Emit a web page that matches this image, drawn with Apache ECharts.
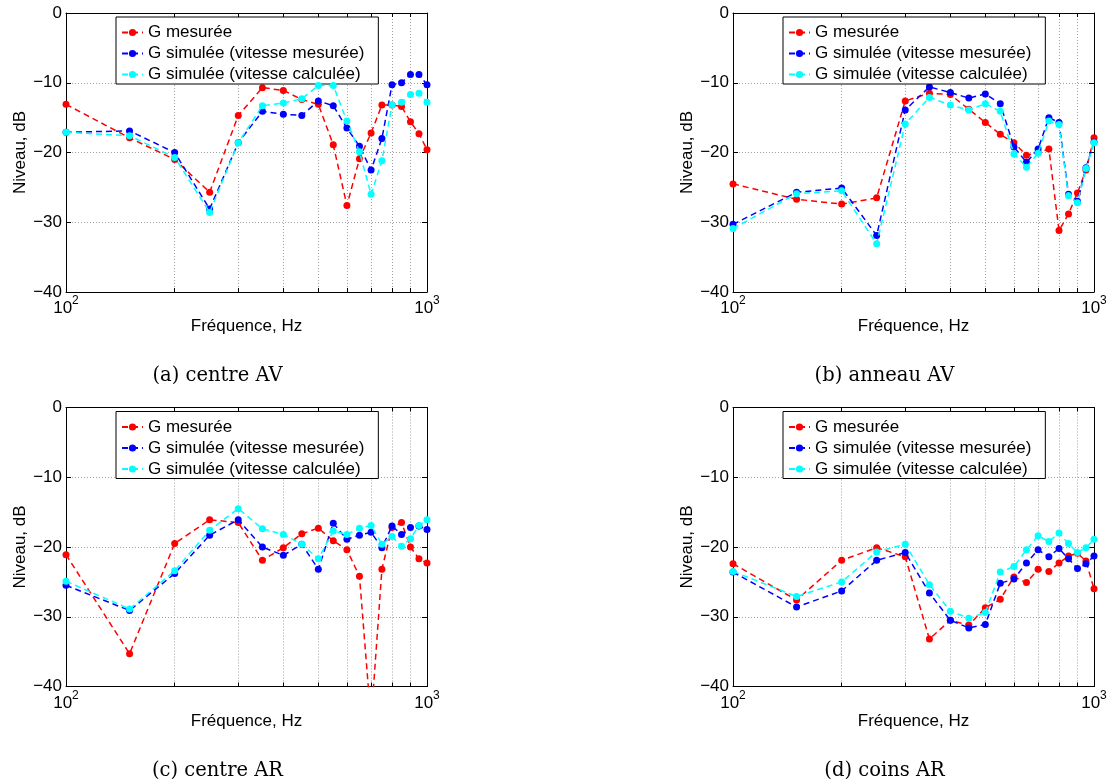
<!DOCTYPE html>
<html><head><meta charset="utf-8">
<script src="https://cdn.jsdelivr.net/npm/echarts@6/dist/echarts.min.js"></script>
<style>html,body{margin:0;padding:0;background:#fff}#c{width:1110px;height:784px}</style>
</head><body><div id="c"></div>
<script>
// ---------- data ----------
const freqs = [100,150,200,250,300,350,400,450,500,550,600,650,700,750,800,850,900,950,1000];
const seriesNames = ['G mesurée','G simulée (vitesse mesurée)','G simulée (vitesse calculée)'];
const captions = ['(a) centre AV','(b) anneau AV','(c) centre AR','(d) coins AR'];
const yTickValues = [0,-10,-20,-30,-40];
const xGridValues = [100,200,300,400,500,600,700,800,900,1000];
const xLabelValues = [100,1000];

// (a) centre AV
const aMes  = [-13.1,-17.9,-21.0,-25.7,-14.7,-10.7,-11.1,-12.4,-13.1,-18.9,-27.6,-20.9,-17.2,-13.2,-13.2,-13.4,-15.6,-17.3,-19.6];
const aSimM = [-17.1,-16.9,-20.0,-28.1,-18.6,-14.1,-14.5,-14.7,-12.6,-13.3,-16.5,-19.1,-22.5,-18.0,-10.3,-10.0,-8.8,-8.8,-10.3];
const aSimC = [-17.1,-17.6,-20.7,-28.6,-18.6,-13.3,-12.9,-12.3,-10.4,-10.4,-15.5,-19.9,-26.0,-21.2,-13.2,-12.8,-11.7,-11.5,-12.8];
// (b) anneau AV
const bMes  = [-24.5,-26.7,-27.4,-26.5,-12.6,-11.5,-11.7,-13.8,-15.7,-17.4,-18.6,-20.4,-20.0,-19.5,-31.2,-28.8,-25.8,-22.5,-17.9];
const bSimM = [-30.3,-25.7,-25.1,-31.9,-13.9,-10.6,-11.4,-12.2,-11.6,-13.0,-19.2,-21.4,-19.5,-15.0,-15.7,-26.0,-27.0,-22.2,-18.5];
const bSimC = [-30.9,-25.9,-25.5,-33.1,-15.9,-12.1,-13.2,-13.9,-13.0,-14.1,-20.2,-22.1,-20.1,-15.5,-16.0,-26.2,-27.2,-22.3,-18.6];
// (c) centre AR
const cMes  = [-21.1,-35.3,-19.5,-16.1,-16.5,-21.9,-20.1,-18.1,-17.3,-19.1,-20.4,-24.2,-45.0,-23.2,-17.2,-16.5,-20.0,-21.7,-22.3];
const cSimM = [-25.5,-29.1,-23.8,-18.3,-16.1,-20.0,-21.2,-19.6,-23.2,-16.6,-18.9,-18.3,-17.9,-20.1,-17.0,-18.2,-17.2,-17.0,-17.5];
const cSimC = [-24.9,-28.9,-23.4,-17.6,-14.5,-17.4,-18.2,-19.6,-21.7,-17.7,-18.2,-17.3,-16.9,-19.6,-18.5,-19.9,-18.8,-16.9,-16.1];
// (d) coins AR
const dMes  = [-22.4,-27.6,-21.9,-20.1,-21.4,-33.2,-30.5,-31.2,-28.7,-27.5,-24.3,-25.1,-23.2,-23.5,-22.3,-21.3,-20.9,-22.0,-26.0];
const dSimM = [-23.6,-28.6,-26.3,-21.9,-20.8,-26.6,-30.5,-31.6,-31.1,-25.2,-24.6,-22.3,-20.4,-21.4,-20.2,-21.7,-23.1,-22.4,-21.3];
const dSimC = [-23.5,-27.1,-25.0,-20.7,-19.6,-25.4,-29.2,-30.2,-29.4,-23.6,-22.8,-20.4,-18.4,-19.2,-18.0,-19.5,-20.8,-20.1,-18.9];

const panelData = [[aMes,aSimM,aSimC],[bMes,bSimM,bSimC],[cMes,cSimM,cSimC],[dMes,dSimM,dSimC]];

// ---------- style / layout ----------
const colors = ['#ff0000','#0000ff','#00ffff'];
const FONT = 'Liberation Sans, Arial, Helvetica, sans-serif';
const FS = 17;
const panels = [
  {left:66, top:13},
  {left:733, top:13},
  {left:66, top:407.5},
  {left:733, top:407.5}
];
const PW = 361, PH = 279;

const option = {
  backgroundColor:'#fff',
  animation:false,
  grid:[], xAxis:[], yAxis:[], series:[], legend:[], graphic:[]
};

const gridLine = {show:true, lineStyle:{color:'#a0a0a0', type:[1,2], width:1}};
const axisLine = {show:true, onZero:false, lineStyle:{color:'#000', width:1}};

panels.forEach((p,i)=>{
  option.grid.push({left:p.left, top:p.top, width:PW, height:PH, containLabel:false});
  // bottom x axis
  option.xAxis.push({
    gridIndex:i, type:'log', logBase:10, min:100, max:1000, position:'bottom',
    axisLine:axisLine,
    axisTick:{show:true, inside:true, length:4, customValues:xGridValues, lineStyle:{color:'#000'}},
    axisLabel:{show:true, customValues:xLabelValues, margin:3,
      formatter:v=>'{b|10}{s|'+Math.round(Math.log10(v))+'}',
      rich:{b:{fontSize:FS, fontFamily:FONT, color:'#000', lineHeight:22, verticalAlign:'bottom'},
            s:{fontSize:12, fontFamily:FONT, color:'#000', lineHeight:13, verticalAlign:'top'}}},
    splitLine:gridLine,
    name:'Fréquence, Hz', nameLocation:'middle', nameGap:26,
    nameTextStyle:{fontSize:FS, fontFamily:FONT, color:'#000'}
  });
  // top x axis (box)
  option.xAxis.push({
    gridIndex:i, type:'log', logBase:10, min:100, max:1000, position:'top',
    axisLine:axisLine,
    axisTick:{show:true, inside:true, length:4, customValues:xGridValues, lineStyle:{color:'#000'}},
    axisLabel:{show:false}, splitLine:{show:false}
  });
  // left y axis
  option.yAxis.push({
    gridIndex:i, type:'value', min:-40, max:0, interval:10, position:'left',
    axisLine:axisLine,
    axisTick:{show:true, inside:true, length:5, lineStyle:{color:'#000'}},
    axisLabel:{show:true, margin:4, fontSize:FS, fontFamily:FONT, color:'#000',
      formatter:v=> v<0 ? '\u2212'+Math.abs(v) : String(v)},
    splitLine:gridLine,
    name:'Niveau, dB', nameLocation:'middle', nameGap:37,
    nameTextStyle:{fontSize:FS, fontFamily:FONT, color:'#000'}
  });
  // right y axis (box)
  option.yAxis.push({
    gridIndex:i, type:'value', min:-40, max:0, interval:10, position:'right',
    axisLine:axisLine,
    axisTick:{show:true, inside:true, length:5, lineStyle:{color:'#000'}},
    axisLabel:{show:false}, splitLine:{show:false}
  });
  panelData[i].forEach((vals,k)=>{
    option.series.push({
      name:seriesNames[k], type:'line', xAxisIndex:2*i, yAxisIndex:2*i,
      data:freqs.map((f,j)=>[f, vals[j]]),
      symbol:'circle', symbolSize:7, showSymbol:true, clip:true,
      itemStyle:{color:colors[k]},
      lineStyle:{color:colors[k], width:1.5, type:[6,4]},
      z:2+k
    });
  });
  option.legend.push({
    orient:'vertical', left:p.left+50, top:p.top+4,
    data:seriesNames,
    itemWidth:21, itemHeight:9, itemGap:4,
    padding:[7,14,1,5],
    backgroundColor:'#fff', borderColor:'#000', borderWidth:1, borderRadius:0,
    textStyle:{fontSize:FS, fontFamily:FONT, color:'#000'},
    selectedMode:false
  });
  option.graphic.push({
    type:'text', x:p.left+PW/2-29, y:p.top+363,
    style:{text:captions[i], font:'19.5px "DejaVu Serif", serif', fill:'#000',
      textAlign:'center', textVerticalAlign:'middle'}
  });
});

const chart = echarts.init(document.getElementById('c'), null, {renderer:'canvas'});
chart.setOption(option);
</script>
</body></html>
